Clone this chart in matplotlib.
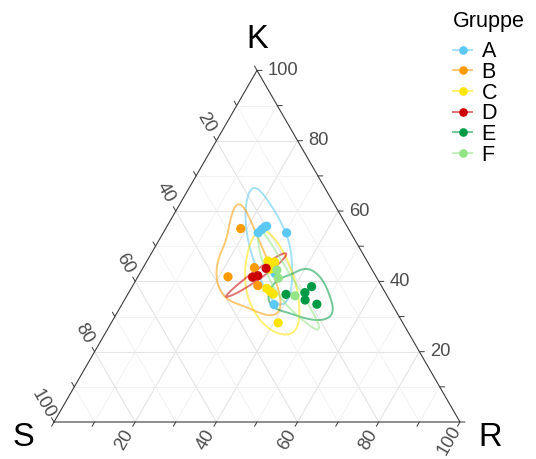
import numpy as np
import matplotlib
matplotlib.use("Agg")
import matplotlib.pyplot as plt
from matplotlib.lines import Line2D

plt.rcParams['font.family'] = ['Liberation Sans', 'DejaVu Sans']

# ---------------- data (percent: S, K, R) ----------------
groups = ['A', 'B', 'C', 'D', 'E', 'F']

A_S = [22.8, 21.4, 20.3, 19.8, 15.8, 24.4, 29.1]
A_K = [53.8, 54.8, 55.5, 55.7, 53.8, 42.3, 33.4]
A_R = [23.4, 23.8, 24.2, 24.5, 30.4, 33.3, 37.5]

B_S = [26.5, 28.7, 36.5, 30.4]
B_K = [55.0, 43.9, 41.3, 38.8]
B_R = [18.5, 27.4, 22.2, 30.8]

C_S = [24.4, 22.9, 25.0, 28.6, 28.2, 27.8, 30.7]
C_K = [45.8, 45.5, 43.5, 38.0, 37.1, 36.4, 28.2]
C_R = [29.8, 31.6, 31.5, 33.4, 34.7, 35.8, 41.1]

D_S = [30.5, 29.0, 25.9]
D_K = [41.2, 41.6, 43.7]
D_R = [28.3, 29.4, 30.4]

E_S = [24.7, 19.8, 17.3, 20.8, 18.5]
E_K = [36.3, 36.8, 38.5, 34.7, 33.5]
E_R = [39.0, 43.4, 44.2, 44.5, 48.0]

F_S = [23.5, 24.3, 22.7]
F_K = [43.2, 40.9, 35.9]
F_R = [33.3, 34.8, 41.4]

data = {
    'A': (A_S, A_K, A_R), 'B': (B_S, B_K, B_R), 'C': (C_S, C_K, C_R),
    'D': (D_S, D_K, D_R), 'E': (E_S, E_K, E_R), 'F': (F_S, F_K, F_R),
}

tick_values = [0, 10, 20, 30, 40, 50, 60, 70, 80, 90, 100]
label_values = [20, 40, 60, 80, 100]

colors = {'A': '#5BC8F5', 'B': '#FF9B00', 'C': '#FFE400',
          'D': '#CC0000', 'E': '#009A44', 'F': '#92E485'}

BW_MULT = 2.0
DENSITY_LEVEL = 0.72

H = np.sqrt(3) / 2


def tern(S, K, R):
    S = np.asarray(S, float); K = np.asarray(K, float); R = np.asarray(R, float)
    tot = S + K + R
    k = K / tot
    r = R / tot
    return r + k / 2, k * H


def ilr(S, K, R):
    z1 = np.log(K / R) / np.sqrt(2)
    z2 = np.sqrt(2 / 3) * np.log(np.sqrt(K * R) / S)
    return z1, z2


def bw_sd(v):
    v = np.asarray(v, float)
    q75, q25 = np.percentile(v, [75, 25])
    s = min(np.std(v, ddof=1), (q75 - q25) / 1.34)
    return 1.06 * s * len(v) ** (-1 / 5)


# ---------------- figure ----------------
W, HH = 536, 459
fig = plt.figure(figsize=(W / 100, HH / 100), dpi=100)
ax = fig.add_axes([54 / W, (HH - 422) / HH, 406 / W, 351.6 / HH])
ax.set_xlim(0, 1)
ax.set_ylim(0, H)
ax.axis('off')

# grid
for v in tick_values[1:-1]:
    c = v / 100
    major = (v % 20 == 0)
    col = '#E4E4E4' if major else '#F0F0F0'
    lw = 0.8 if major else 0.6
    ax.plot([c / 2, 1 - c / 2], [c * H, c * H], color=col, lw=lw, zorder=0)
    ax.plot([c, c + (1 - c) / 2], [0, (1 - c) * H], color=col, lw=lw, zorder=0)
    ax.plot([1 - c, (1 - c) / 2], [0, (1 - c) * H], color=col, lw=lw, zorder=0)

# border
ax.plot([0, 1, 0.5, 0], [0, 0, H, 0], color='#3A3A3A', lw=0.8, zorder=1,
        clip_on=False, solid_joinstyle='miter')

# ticks and labels
px = 72 / 100
tick_len = 5 * px
lab_off = 21 * px
tick_col = '#3A3A3A'
lab_col = '#4D4D4D'
fs_tick = 13.2
for v in tick_values:
    c = v / 100
    d = np.array([-0.5, -H])
    ax.annotate('', xy=(c, 0), xytext=tuple(d * tick_len), textcoords='offset points',
                arrowprops=dict(arrowstyle='-', color=tick_col, lw=0.7,
                                shrinkA=0, shrinkB=0), annotation_clip=False)
    kx, ky = (1 - c) / 2, (1 - c) * H
    d2 = np.array([-0.5, H])
    ax.annotate('', xy=(kx, ky), xytext=tuple(d2 * tick_len), textcoords='offset points',
                arrowprops=dict(arrowstyle='-', color=tick_col, lw=0.7,
                                shrinkA=0, shrinkB=0), annotation_clip=False)
    rx, ry = 1 - c / 2, c * H
    ax.annotate('', xy=(rx, ry), xytext=(tick_len, 0), textcoords='offset points',
                arrowprops=dict(arrowstyle='-', color=tick_col, lw=0.7,
                                shrinkA=0, shrinkB=0), annotation_clip=False)
    if v in label_values:
        ax.annotate(str(v), xy=(c, 0), xytext=tuple(d * lab_off), textcoords='offset points',
                    rotation=60, ha='center', va='center', fontsize=fs_tick,
                    color=lab_col, annotation_clip=False)
        ax.annotate(str(v), xy=(kx, ky), xytext=tuple(d2 * lab_off), textcoords='offset points',
                    rotation=-60, ha='center', va='center', fontsize=fs_tick,
                    color=lab_col, annotation_clip=False)
        ax.annotate(str(v), xy=(rx, ry), xytext=(10.5 * px, 0), textcoords='offset points',
                    rotation=0, ha='left', va='center', fontsize=fs_tick,
                    color=lab_col, annotation_clip=False)

# vertex labels
fs_vert = 23.5
ax.annotate('K', xy=(0.5, H), xytext=(0, 31 * px), textcoords='offset points',
            ha='center', va='center', fontsize=fs_vert, annotation_clip=False)
ax.annotate('S', xy=(0, 0), xytext=(-31 * px, -16 * px), textcoords='offset points',
            ha='center', va='center', fontsize=fs_vert, annotation_clip=False)
ax.annotate('R', xy=(1, 0), xytext=(30 * px, -16 * px), textcoords='offset points',
            ha='center', va='center', fontsize=fs_vert, annotation_clip=False)

# density contours (kernel density in ilr space, axis-aligned bandwidth)
gx = np.linspace(0.0, 1.0, 800)
gy = np.linspace(0.0, H, 700)
GX, GY = np.meshgrid(gx, gy)
gk = GY / H
gr = GX - gk / 2
gs = 1 - gk - gr
valid = (gk > 1e-3) & (gr > 1e-3) & (gs > 1e-3)
GZ1, GZ2 = ilr(np.where(valid, gs, 1), np.where(valid, gk, 1), np.where(valid, gr, 1))

for g in groups:
    S, K, R = (np.asarray(a, float) for a in data[g])
    z1, z2 = ilr(S, K, R)
    h1, h2 = bw_sd(z1) * BW_MULT, bw_sd(z2) * BW_MULT
    Z = np.zeros_like(GX)
    for a, b in zip(z1, z2):
        Z += np.exp(-0.5 * (((GZ1 - a) / h1) ** 2 + ((GZ2 - b) / h2) ** 2))
    Z /= (2 * np.pi * h1 * h2 * len(z1))
    Z = np.where(valid, Z, 0)
    ax.contour(GX, GY, Z, levels=[DENSITY_LEVEL], colors=[colors[g]], alpha=0.55,
               linewidths=1.4, zorder=2)

for g in groups:
    x, y = tern(*data[g])
    ax.scatter(x, y, s=44, color=colors[g], edgecolors='none', zorder=3, clip_on=False)

# legend (manual, ggplot-style)
def fx(p):
    return p / W


def fy(p):
    return 1 - p / HH


fig.text(fx(453), fy(27), 'Gruppe', fontsize=15.5, ha='left', va='baseline')
for i, g in enumerate(groups):
    yc = 49.5 + i * 20.7
    fig.add_artist(Line2D([fx(453), fx(472)], [fy(yc), fy(yc)], color=colors[g],
                          alpha=0.55, lw=1.4, transform=fig.transFigure))
    fig.add_artist(Line2D([fx(462.5)], [fy(yc)], marker='o', markersize=6.2,
                          color=colors[g], markeredgewidth=0, linestyle='none',
                          transform=fig.transFigure))
    fig.text(fx(481.5), fy(yc + 7.8), g, fontsize=15.5, ha='left', va='baseline')

fig.savefig('out.png', dpi=100)
